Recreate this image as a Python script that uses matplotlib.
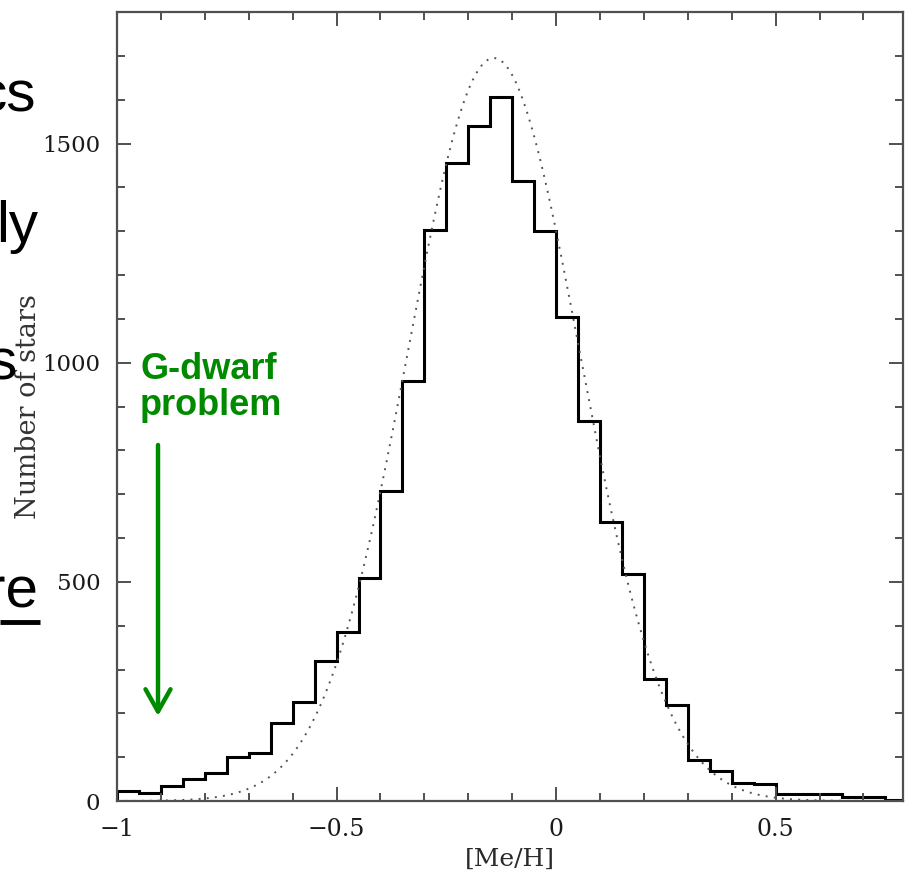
import numpy as np
import matplotlib
matplotlib.use("Agg")
import matplotlib.pyplot as plt
from matplotlib.ticker import MultipleLocator, FixedFormatter, FixedLocator
from matplotlib.lines import Line2D

# histogram of [Me/H], bins of 0.05 starting at -1
bin_start = -1.0
bin_width = 0.05
star_counts = [23, 18, 35, 50, 63, 100, 109, 179, 225, 319, 385, 508,
               708, 959, 1302, 1455, 1539, 1607, 1414, 1301, 1105, 868,
               636, 517, 279, 219, 94, 68, 42, 38, 16, 16, 17, 10, 8, 3]

# gaussian fit (dotted)
gauss_mean = -0.142
gauss_sigma = 0.195
gauss_peak = 1695

xtick_vals = [-1, -0.5, 0, 0.5]
xtick_labels = ["\u22121", "\u22120.5", "0", "0.5"]
ytick_vals = [0, 500, 1000, 1500]
ytick_labels = ["0", "500", "1000", "1500"]

# cut-off slide text on the left
slide_words = ["cs", "ly", "s", "re"]

W, H = 908, 873
fig = plt.figure(figsize=(W / 100, H / 100), dpi=100)
ax = fig.add_axes([117 / W, 1 - 801 / H, (903 - 117) / W, (801 - 12) / H])

edges = bin_start + bin_width * np.arange(len(star_counts) + 1)
ax.stairs(star_counts, edges, color="black", lw=2.2, baseline=0)

xs = np.linspace(-1, 0.79, 400)
ax.plot(xs, gauss_peak * np.exp(-(xs - gauss_mean) ** 2 / (2 * gauss_sigma ** 2)),
        color="#555555", lw=1.4, linestyle=(0, (1, 3.2)))

ax.set_xlim(-1, 0.79)
ax.set_ylim(0, 1800)

spine_col = "#505050"
for s in ax.spines.values():
    s.set_color(spine_col)
    s.set_linewidth(1.6)

ax.xaxis.set_major_locator(FixedLocator(xtick_vals))
ax.xaxis.set_major_formatter(FixedFormatter(xtick_labels))
ax.xaxis.set_minor_locator(MultipleLocator(0.1))
ax.yaxis.set_major_locator(FixedLocator(ytick_vals))
ax.yaxis.set_major_formatter(FixedFormatter(ytick_labels))
ax.yaxis.set_minor_locator(MultipleLocator(100))

ax.tick_params(which="both", direction="in", top=True, right=True,
               color=spine_col, width=1.4, labelcolor="#1a1a1a")
ax.tick_params(which="major", length=10)
ax.tick_params(which="minor", length=6)
ax.tick_params(axis="x", which="major", pad=12, labelsize=17,
               labelfontfamily="DejaVu Serif")
ax.tick_params(axis="y", which="major", pad=12, labelsize=16.5,
               labelfontfamily="DejaVu Serif")

ax.set_xlabel("[Me/H]", family="DejaVu Serif", fontsize=18, color="#2a2a2a",
              labelpad=5)
ax.set_ylabel("Number of stars", family="DejaVu Serif", fontsize=19.5,
              color="#333333", labelpad=0)

green = "#008a00"
ax.annotate("", xy=(158, H - 716), xycoords="figure pixels",
            xytext=(158, H - 445), textcoords="figure pixels",
            arrowprops=dict(arrowstyle="->,head_length=0.8,head_width=0.45",
                            color=green, lw=3.2, mutation_scale=20,
                            shrinkA=0, shrinkB=0))
fig.text(140, H - 352, "G-dwarf\nproblem", transform=None, ha="left",
         va="top", color=green, fontsize=26, fontweight="bold",
         family="Liberation Sans", linespacing=1.05)

# slide text fragments (cut off at the left edge, as in the slide)
word_pos = [(36, 112), (38, 242), (17, 380), (38, 608)]
for w, (px, py) in zip(slide_words, word_pos):
    fig.text(px, H - py, w, transform=None, ha="right", va="baseline",
             fontsize=42, family="Liberation Sans", color="black")
fig.add_artist(Line2D([0, 40], [H - 622, H - 622], transform=None,
                      color="black", lw=3.5, solid_capstyle="butt"))

fig.savefig("out.png", dpi=100)
